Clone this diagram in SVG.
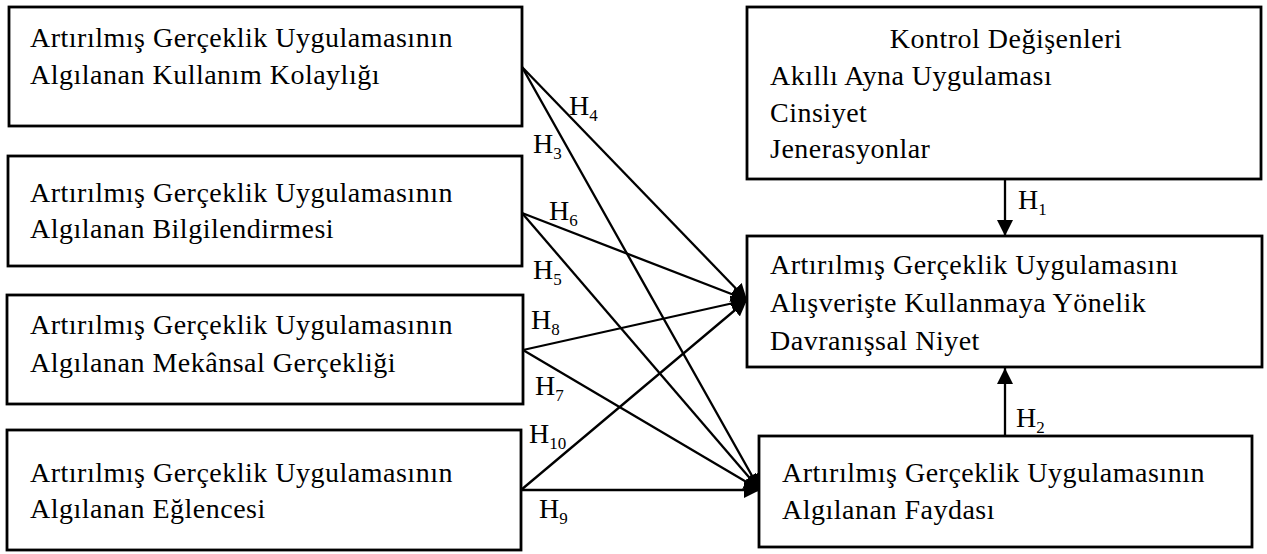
<svg xmlns="http://www.w3.org/2000/svg" width="1267" height="554" viewBox="0 0 1267 554">
<style>
.box{fill:#fff;stroke:#000;stroke-width:2.8}
.t{font-family:"Liberation Serif","Times New Roman",serif;font-size:28px;letter-spacing:0.5px;fill:#000}
.h{font-family:"Liberation Serif","Times New Roman",serif;font-size:28px;fill:#000}
.s{font-size:17px}
.ln{stroke:#000;stroke-width:2.3;fill:none;marker-end:url(#ah)}
</style>
<defs>
<marker id="ah" markerUnits="userSpaceOnUse" markerWidth="18" markerHeight="16" refX="16" refY="8" orient="auto">
<path d="M0,0 L16,8 L0,16 Z" fill="#000"/>
</marker>
</defs>
<rect width="1267" height="554" fill="#fff"/>
<g id="connectors">
<line class="ln" x1="522" y1="67" x2="747" y2="300"/>
<line class="ln" x1="522" y1="213" x2="747" y2="300"/>
<line class="ln" x1="523" y1="350" x2="747" y2="300"/>
<line class="ln" x1="521" y1="490" x2="747" y2="300"/>
<line class="ln" x1="522" y1="67" x2="760" y2="490"/>
<line class="ln" x1="522" y1="213" x2="760" y2="490"/>
<line class="ln" x1="523" y1="350" x2="760" y2="490"/>
<line class="ln" x1="521" y1="490" x2="760" y2="490"/>
<line class="ln" x1="1005" y1="179" x2="1005" y2="236"/>
<line class="ln" x1="1005" y1="436" x2="1005" y2="368"/>
<text class="h" x="569" y="115">H<tspan class="s" dy="6">4</tspan></text>
<text class="h" x="533" y="153">H<tspan class="s" dy="6">3</tspan></text>
<text class="h" x="549" y="220">H<tspan class="s" dy="6">6</tspan></text>
<text class="h" x="533" y="279">H<tspan class="s" dy="6">5</tspan></text>
<text class="h" x="531" y="329">H<tspan class="s" dy="6">8</tspan></text>
<text class="h" x="535" y="395">H<tspan class="s" dy="6">7</tspan></text>
<text class="h" x="529" y="443">H<tspan class="s" dy="6">10</tspan></text>
<text class="h" x="539" y="518">H<tspan class="s" dy="6">9</tspan></text>
<text class="h" x="1018" y="209">H<tspan class="s" dy="6">1</tspan></text>
<text class="h" x="1016" y="427">H<tspan class="s" dy="6">2</tspan></text>
</g>
<g id="node-kolaylik">
<rect class="box" x="9" y="7" width="513" height="119"/>
<text class="t" x="30" y="47">Artırılmış Gerçeklik Uygulamasının</text>
<text class="t" x="30" y="84">Algılanan Kullanım Kolaylığı</text>
</g>
<g id="node-bilgilendirme">
<rect class="box" x="8" y="156" width="514" height="110"/>
<text class="t" x="30" y="202">Artırılmış Gerçeklik Uygulamasının</text>
<text class="t" x="30" y="238">Algılanan Bilgilendirmesi</text>
</g>
<g id="node-mekansal">
<rect class="box" x="7" y="295" width="516" height="109"/>
<text class="t" x="30" y="334">Artırılmış Gerçeklik Uygulamasının</text>
<text class="t" x="30" y="372">Algılanan Mekânsal Gerçekliği</text>
</g>
<g id="node-eglence">
<rect class="box" x="7" y="430" width="514" height="120"/>
<text class="t" x="30" y="482">Artırılmış Gerçeklik Uygulamasının</text>
<text class="t" x="30" y="518">Algılanan Eğlencesi</text>
</g>
<g id="node-kontrol">
<rect class="box" x="747" y="7" width="514" height="172"/>
<text class="t" x="1006" y="48" text-anchor="middle">Kontrol Değişenleri</text>
<text class="t" x="770" y="85">Akıllı Ayna Uygulaması</text>
<text class="t" x="770" y="122">Cinsiyet</text>
<text class="t" x="770" y="158">Jenerasyonlar</text>
</g>
<g id="node-niyet">
<rect class="box" x="747" y="236" width="515" height="131"/>
<text class="t" x="770" y="274">Artırılmış Gerçeklik Uygulamasını</text>
<text class="t" x="770" y="312">Alışverişte Kullanmaya Yönelik</text>
<text class="t" x="770" y="350">Davranışsal Niyet</text>
</g>
<g id="node-fayda">
<rect class="box" x="759" y="436" width="493" height="111"/>
<text class="t" x="782" y="482">Artırılmış Gerçeklik Uygulamasının</text>
<text class="t" x="782" y="519">Algılanan Faydası</text>
</g>
</svg>
